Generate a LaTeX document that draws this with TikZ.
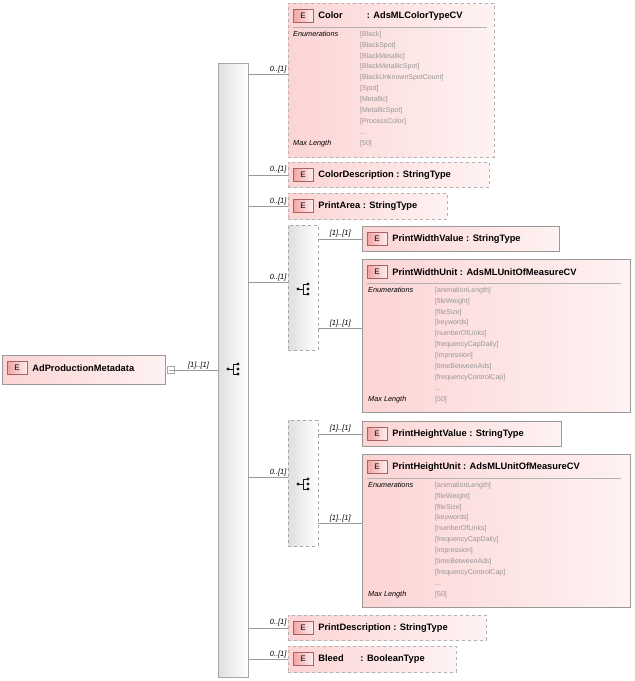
\documentclass[tikz,border=0pt]{standalone}
\usepackage{fontspec}
\setmainfont{Liberation Sans}
\usetikzlibrary{calc,positioning}
\definecolor{boxpink}{RGB}{252,212,212}
\definecolor{badge}{RGB}{240,140,140}
\definecolor{enumgray}{RGB}{150,150,150}
\tikzset{
  elbox/.style={draw=gray!70,left color=boxpink,right color=boxpink!30,anchor=north west,inner sep=0pt},
  optbox/.style={elbox,dashed,draw=gray!60},
  mandbox/.style={elbox,draw=gray!80},
  seqbox/.style={draw=gray!70,left color=gray!25,right color=white,anchor=north west,inner sep=0pt},
  badgestyle/.style={draw=badge!70!black,left color=badge!80,right color=boxpink!40,minimum width=20pt,minimum height=13pt,inner sep=0pt,font=\fontsize{8}{8}\selectfont},
  elname/.style={font=\bfseries\fontsize{9.3}{10}\selectfont,anchor=west,inner sep=0pt},
  card/.style={font=\itshape\fontsize{7.5}{8}\selectfont,anchor=south,inner sep=1pt},
  conn/.style={draw=gray!80},
  enumlab/.style={font=\itshape\fontsize{7.3}{8}\selectfont,anchor=north west,inner sep=0pt},
  enumval/.style={font=\fontsize{7}{10.9}\selectfont,text=enumgray,anchor=north west,inner sep=0pt,align=left}
}
% element box: name, x, y (top), width, height, style, text
\newcommand\elem[7]{%
  \node[#6,minimum width=#4pt,minimum height=#5pt] (#1) at (#2pt,-#3pt) {};
  \node[badgestyle] (#1E) at ($(#1.north west)+(15pt,-13pt)$) {E};
  \node[elname,right=5pt of #1E] (#1T) {#7};
}
\newcommand\seqicon[2]{%
  \fill[gray!20!black] (#1pt-5pt,-#2pt) circle (1.6pt);
  \draw[gray!20!black] (#1pt-5pt,-#2pt) -- (#1pt,-#2pt) (#1pt,-#2pt+5pt) -- (#1pt,-#2pt-5pt)
    (#1pt,-#2pt+5pt) -- (#1pt+4pt,-#2pt+5pt) (#1pt,-#2pt-5pt) -- (#1pt+4pt,-#2pt-5pt);
  \foreach \d in {5,0,-5} \fill[gray!20!black] (#1pt+5pt,-#2pt+\d pt) circle (1.7pt);
}
\begin{document}
\begin{tikzpicture}[x=1pt,y=1pt]
\useasboundingbox (0,0) rectangle (635,-681);
%% root element
\elem{root}{2}{355}{163}{29}{mandbox}{AdProductionMetadata}
\node[draw=gray!70,fill=white,minimum size=7pt,inner sep=0pt] (rootm) at (171,-370) {};
\draw[gray!70] (168.5,-370) -- (173.5,-370);
\node[seqbox,minimum width=30pt,minimum height=614pt] (bar) at (218,-63) {};
\seqicon{233}{369}
\draw[conn] (rootm.east) -- (bar.west |- rootm.east) node[card,pos=0.55] {[1]..[1]};
%% children of the sequence
\elem{color}{288}{3}{206}{154}{optbox}{Color\hspace{2.6em}: AdsMLColorTypeCV}
\elem{cdesc}{288}{162}{201}{25}{optbox}{ColorDescription : StringType}
\elem{parea}{288}{193}{159}{26}{optbox}{PrintArea : StringType}
\node[seqbox,dashed,minimum width=30pt,minimum height=125pt] (wseq) at (288,-225) {};
\node[seqbox,dashed,minimum width=30pt,minimum height=126pt] (hseq) at (288,-420) {};
\seqicon{303}{289}
\seqicon{303}{484}
\elem{wval}{362}{226}{197}{25}{mandbox}{PrintWidthValue : StringType}
\elem{wunit}{362}{259}{268}{153}{mandbox}{PrintWidthUnit : AdsMLUnitOfMeasureCV}
\elem{hval}{362}{421}{199}{25}{mandbox}{PrintHeightValue : StringType}
\elem{hunit}{362}{454}{268}{153}{mandbox}{PrintHeightUnit : AdsMLUnitOfMeasureCV}
\elem{pdesc}{288}{615}{198}{25}{optbox}{PrintDescription : StringType}
\elem{bleed}{288}{646}{168}{26}{optbox}{Bleed\hspace{1.8em}: BooleanType}
%% connectors
\coordinate (colorin) at (288,-74);
\coordinate (wseqin) at (288,-282);
\coordinate (hseqin) at (288,-477);
\foreach \tgt in {colorin,cdesc.west,parea.west,wseqin,hseqin,pdesc.west,bleed.west}
  \draw[conn] (bar.east |- \tgt) -- (\tgt) node[card,pos=0.75] {0..[1]};
\coordinate (wunitin) at (362,-328);
\coordinate (hunitin) at (362,-523);
\foreach \src/\tgt in {wseq/wval.west,wseq/wunitin,hseq/hval.west,hseq/hunitin}
  \draw[conn] (\src.east |- \tgt) -- (\tgt) node[card,pos=0.5] {[1]..[1]};
%% enumeration details
\draw[gray!60] (293,-27) -- (487,-27);
\node[enumlab] at (293,-31) {Enumerations};
\node[enumval] at (360,-31) {[Black]\\{}[BlackSpot]\\{}[BlackMetallic]\\{}[BlackMetallicSpot]\\{}[BlackUnknownSpotCount]\\{}[Spot]\\{}[Metallic]\\{}[MetallicSpot]\\{}[ProcessColor]\\{}...};
\node[enumlab] at (293,-140) {Max Length};
\node[enumval] at (360,-140) {[50]};
\foreach \top in {283,478}{
  \draw[gray!60] (367,-\top) -- (621,-\top);
  \node[enumlab] at (368,-\top-4) {Enumerations};
  \node[enumval] at (435,-\top-4) {[animationLength]\\{}[fileWeight]\\{}[fileSize]\\{}[keywords]\\{}[numberOfLinks]\\{}[frequencyCapDaily]\\{}[impression]\\{}[timeBetweenAds]\\{}[frequencyControlCap]\\{}...};
  \node[enumlab] at (368,-\top-113) {Max Length};
  \node[enumval] at (435,-\top-113) {[50]};
}
\end{tikzpicture}
\end{document}
